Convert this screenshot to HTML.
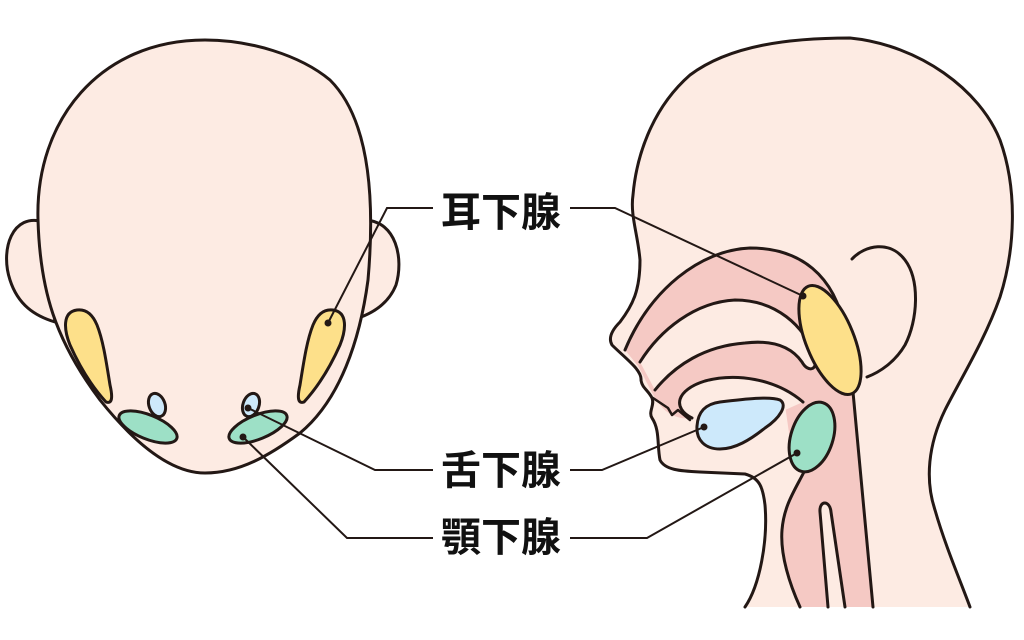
<!DOCTYPE html>
<html><head><meta charset="utf-8"><style>html,body{margin:0;padding:0;background:#fff}svg{display:block}</style></head>
<body>
<svg width="1024" height="640" viewBox="0 0 1024 640" xmlns="http://www.w3.org/2000/svg">
<g stroke="#231815" stroke-width="3" stroke-linejoin="round" stroke-linecap="round">
<!-- front view ears -->
<path d="M44,222 C12,212 0,250 10,280 C18,305 35,316 55,322 Z" fill="#fdebe3"/>
<path d="M366,220 C396,222 404,258 396,285 C388,305 370,315 352,320 Z" fill="#fdebe3"/>
<!-- front head -->
<path d="M205,40 C100,40 35,120 38,220 C40,290 55,340 100,400 C140,450 175,473 205,473 C240,473 270,455 300,433 C340,400 360,340 368,280 C375,200 370,120 330,80 C300,55 250,40 205,40 Z" fill="#fdebe3"/>
<!-- front glands -->
<path d="M77,310 C62,312 64,330 70,345 C82,372 95,390 106,402 C112,404 113,398 110,385 C106,360 103,340 97,325 C92,313 85,309 77,310 Z" fill="#fde08a"/>
<path d="M333,310 C348,312 346,330 340,345 C328,372 315,390 304,402 C298,404 297,398 300,385 C304,360 307,340 313,325 C318,313 325,309 333,310 Z" fill="#fde08a"/>
<ellipse cx="157" cy="405" rx="8" ry="12" transform="rotate(-20 157 405)" fill="#cde9fb"/>
<ellipse cx="251" cy="405" rx="8" ry="12" transform="rotate(20 251 405)" fill="#cde9fb"/>
<ellipse cx="148" cy="427" rx="31" ry="12" transform="rotate(22 148 427)" fill="#9de0c6"/>
<ellipse cx="258" cy="427" rx="31" ry="12" transform="rotate(-22 258 427)" fill="#9de0c6"/>
<!-- profile head -->
<path d="M745,607 C760,585 768,540 765,505 C763,488 760,478 745,474 L700,472 C680,471 665,470 660,460 C657,445 660,430 652,418 C648,412 655,405 652,398 C648,390 642,388 641,380 C642,370 625,358 612,345 C608,338 612,330 620,322 C633,305 640,290 640,260 C638,235 630,215 633,195 C636,160 650,110 690,75 C730,45 790,38 850,38 C920,45 980,90 1000,140 C1018,190 1015,250 1000,297 C985,340 960,380 945,410 C928,445 925,480 935,510 C945,545 960,580 970,607" fill="#fdebe3"/>
<!-- pink region -->
<path d="M625,350 C650,290 700,250 750,248 C800,248 835,275 845,330 L853,392 L873,607 L800,607 C790,585 780,555 782,530 C784,505 795,490 805,470 L790,440 L785,405 C770,385 745,376 715,378 C690,382 678,392 680,402 L692,418 C680,420 668,415 660,405 C652,395 645,378 638,366 Z" fill="#f5c9c4" stroke="none"/>
<path d="M625,350 C650,290 700,250 750,248 C800,248 835,275 845,330" fill="none"/>
<path d="M853,392 L873,607" fill="none"/>
<path d="M800,607 C790,585 780,555 782,530 C784,505 795,490 805,470" fill="none"/>
<!-- palate light band -->
<path d="M640,362 C660,330 695,302 735,300 C775,300 805,325 815,358 C818,370 808,373 802,362 C790,345 770,340 745,343 C705,346 675,365 655,390" fill="#fdebe3"/>
<!-- tongue region -->
<path d="M692,418 C672,408 676,390 705,381 C735,373 775,378 803,402 L785,410 L720,410 Z" fill="#fdebe3" stroke="none"/>
<path d="M692,418 C672,408 676,390 705,381 C735,373 775,378 803,402" fill="none"/>
<path d="M653,398 L668,408 L672,415 L678,410 L690,420" fill="none" stroke-width="2.5"/>
<!-- slit -->
<path d="M828,607 L820,512 C819,500 830,500 831,512 L845,607" fill="#fdebe3"/>
<!-- ear -->
<path d="M852,259 C865,245 890,240 905,260 C920,280 918,320 905,345 C895,362 880,372 867,377" fill="none"/>
<!-- profile glands -->
<ellipse cx="830" cy="340" rx="24" ry="58" transform="rotate(-22 830 340)" fill="#fde08a"/>
<path d="M697,426 C698,412 705,404 720,402 C745,399 770,396 780,400 C788,405 780,418 765,428 C750,440 735,449 720,449 C705,449 696,440 697,426 Z" fill="#cde9fb"/>
<ellipse cx="812" cy="437" rx="21" ry="36" transform="rotate(18 812 437)" fill="#9de0c6"/>
</g>
<!-- leader lines -->
<g stroke="#231815" stroke-width="2" fill="none">
<polyline points="433,208 387,208 328,323"/>
<polyline points="570,208 615,208 803,296"/>
<polyline points="433,470 375,470 248,408"/>
<polyline points="570,470 602,470 704,427"/>
<polyline points="433,538 347,538 243,437"/>
<polyline points="570,538 647,538 797,453"/>
</g>
<g fill="#231815">
<circle cx="328" cy="323" r="3.5"/><circle cx="803" cy="296" r="3.5"/>
<circle cx="248" cy="408" r="3.5"/><circle cx="704" cy="427" r="3.5"/>
<circle cx="243" cy="437" r="3.5"/><circle cx="797" cy="453" r="3.5"/>
</g>
<g font-family="'Liberation Sans','Noto Sans CJK JP',sans-serif" font-size="40" font-weight="bold" fill="#111">
<text x="441" y="226">耳下腺</text>
<text x="441" y="484">舌下腺</text>
<text x="441" y="551">顎下腺</text>
</g>
</svg>
</body></html>
